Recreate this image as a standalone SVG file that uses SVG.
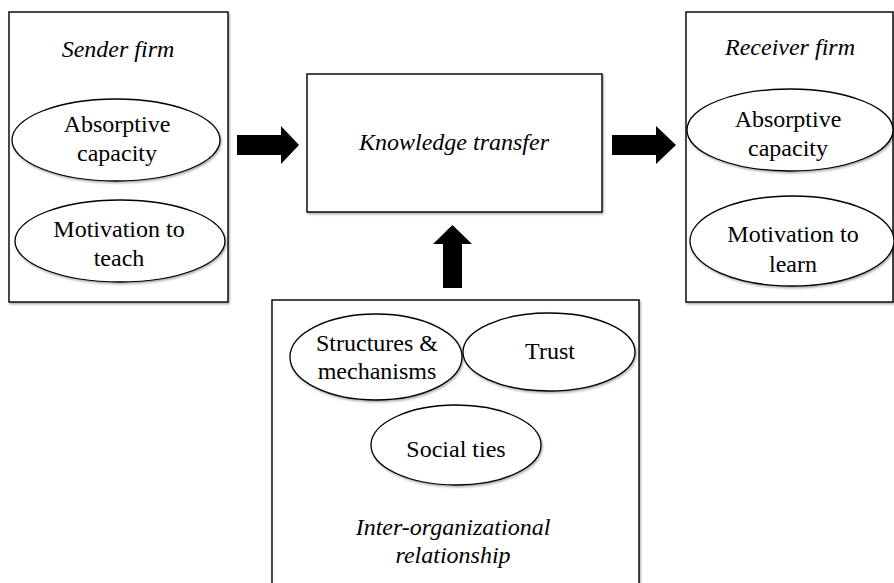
<svg xmlns="http://www.w3.org/2000/svg" width="894" height="583" viewBox="0 0 894 583" font-family="Liberation Serif, Times New Roman, serif" font-size="24">
  <style>
    .box { fill: #ffffff; stroke: #000000; stroke-width: 1.4; }
    .oval { fill: #ffffff; stroke: #000000; stroke-width: 1.3; }
    .t { fill: #000000; text-anchor: middle; }
    .it { font-style: italic; }
    .arrow { fill: #000000; }
  </style>
  <defs>
    <filter id="shadow" x="-5%" y="-5%" width="110%" height="110%">
      <feDropShadow dx="1" dy="1.5" stdDeviation="1" flood-color="#000000" flood-opacity="0.35"/>
    </filter>
  </defs>
  <rect width="894" height="583" fill="#ffffff"/>

  <!-- Sender firm -->
  <g id="sender-firm">
    <rect class="box" x="9" y="12" width="219" height="290" filter="url(#shadow)"/>
    <text class="t it" x="118" y="57" font-family="Liberation Serif, serif">Sender firm</text>
    <ellipse class="oval" cx="116" cy="140" rx="104" ry="41" filter="url(#shadow)"/>
    <text class="t" x="117" y="132" font-family="Liberation Serif, serif">Absorptive</text>
    <text class="t" x="117" y="161" font-family="Liberation Serif, serif">capacity</text>
    <ellipse class="oval" cx="120" cy="241" rx="105" ry="41" filter="url(#shadow)"/>
    <text class="t" x="119" y="237" font-family="Liberation Serif, serif">Motivation to</text>
    <text class="t" x="119" y="266" font-family="Liberation Serif, serif">teach</text>
  </g>

  <!-- Knowledge transfer -->
  <g id="knowledge-transfer">
    <rect class="box" x="307" y="74" width="295" height="138" filter="url(#shadow)"/>
    <text class="t it" x="454" y="150" font-family="Liberation Serif, serif">Knowledge transfer</text>
  </g>

  <!-- Receiver firm -->
  <g id="receiver-firm">
    <rect class="box" x="686" y="12" width="207" height="290" filter="url(#shadow)"/>
    <text class="t it" x="790" y="55" font-family="Liberation Serif, serif">Receiver firm</text>
    <ellipse class="oval" cx="790" cy="130" rx="103" ry="41" filter="url(#shadow)"/>
    <text class="t" x="788" y="127" font-family="Liberation Serif, serif">Absorptive</text>
    <text class="t" x="788" y="156" font-family="Liberation Serif, serif">capacity</text>
    <ellipse class="oval" cx="792" cy="241" rx="102" ry="45" filter="url(#shadow)"/>
    <text class="t" x="793" y="242" font-family="Liberation Serif, serif">Motivation to</text>
    <text class="t" x="793" y="272" font-family="Liberation Serif, serif">learn</text>
  </g>

  <!-- Inter-organizational relationship -->
  <g id="inter-organizational-relationship">
    <rect class="box" x="272" y="300" width="367" height="300" filter="url(#shadow)"/>
    <ellipse class="oval" cx="376" cy="357" rx="86" ry="43" filter="url(#shadow)"/>
    <text class="t" x="377" y="351" font-family="Liberation Serif, serif">Structures &amp;</text>
    <text class="t" x="377" y="379" font-family="Liberation Serif, serif">mechanisms</text>
    <ellipse class="oval" cx="549" cy="352" rx="86" ry="39" filter="url(#shadow)"/>
    <text class="t" x="550" y="359" font-family="Liberation Serif, serif">Trust</text>
    <ellipse class="oval" cx="456" cy="445" rx="85" ry="40" filter="url(#shadow)"/>
    <text class="t" x="456" y="457" font-family="Liberation Serif, serif">Social ties</text>
    <text class="t it" x="453" y="535" font-family="Liberation Serif, serif">Inter-organizational</text>
    <text class="t it" x="453" y="563" font-family="Liberation Serif, serif">relationship</text>
  </g>

  <!-- Block arrows -->
  <g id="connectors">
    <polygon class="arrow" points="237,135 281,135 281,126 299,145 281,164 281,155 237,155"/>
    <polygon class="arrow" points="612,135 656,135 656,126 676,145 656,164 656,155 612,155"/>
    <polygon class="arrow" points="443,288 443,244 433,244 452.5,225 472,244 462,244 462,288"/>
  </g>
</svg>
